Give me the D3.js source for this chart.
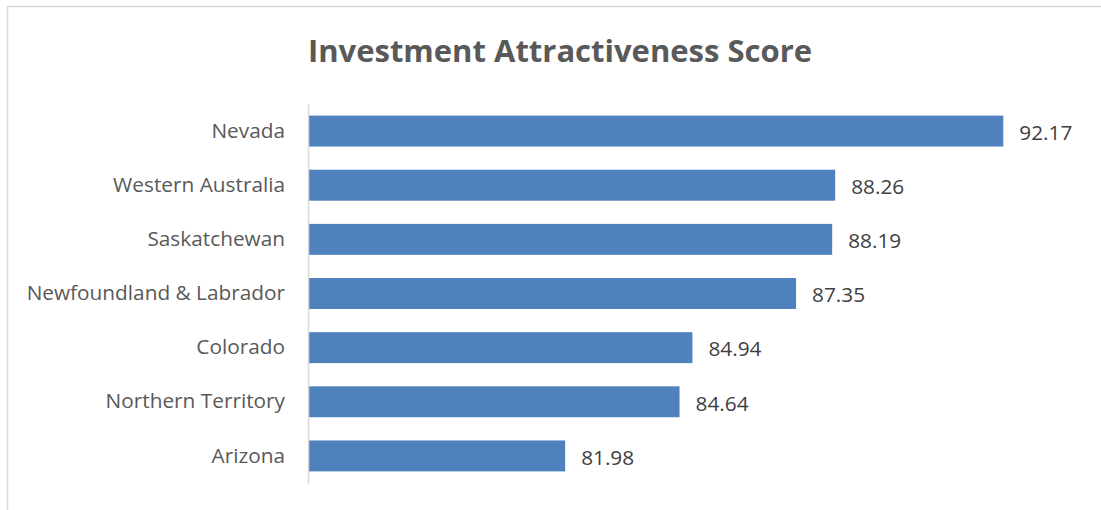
<!DOCTYPE html>
<html><head><meta charset="utf-8">
<script src="https://cdn.jsdelivr.net/npm/d3@7"></script>
<style>body{margin:0;background:#fff;} svg{display:block;}</style>
</head><body>
<svg id="c" width="1101" height="510"></svg>
<script>
const categories = ["Nevada","Western Australia","Saskatchewan","Newfoundland & Labrador","Colorado","Northern Territory","Arizona"];
const values = [92.17,88.26,88.19,87.35,84.94,84.64,81.98];
const title = "Investment Attractiveness Score";

const svg = d3.select("#c");
const font = "'Open Sans', sans-serif";
svg.append("rect").attr("x",7.5).attr("y",6.5).attr("width",1200).attr("height",600)
  .attr("fill","#fff").attr("stroke","#d9d9d9").attr("stroke-width",1.5);

const x = d3.scaleLinear().domain([76,94]).range([308,1082]);
const y = d3.scaleBand().domain(categories).range([104,483]).paddingInner(0.4286).paddingOuter(0.2143);

svg.append("text").attr("x",560).attr("y",62).attr("text-anchor","middle")
  .attr("font-family",font).attr("font-weight","bold").attr("font-size",31).attr("fill","#595959").text(title);

svg.selectAll("rect.bar").data(values).join("rect").attr("class","bar")
  .attr("x",x(76)).attr("y",(d,i)=>y(categories[i])).attr("width",d=>x(d)-x(76)).attr("height",y.bandwidth())
  .attr("fill","#4f81bd");

const ax = svg.append("g").attr("transform",`translate(${x(76)},0)`).call(d3.axisLeft(y).tickSize(0).tickPadding(23));
ax.select(".domain").attr("stroke","#d9d9d9").attr("stroke-width",1.5);
ax.selectAll("text").attr("font-family",font).attr("font-size",20.8).attr("fill","#595959");

svg.selectAll("text.val").data(values).join("text").attr("class","val")
  .attr("x",d=>x(d)+16).attr("y",(d,i)=>y(categories[i])+y.bandwidth()/2+1.5).attr("dy","0.35em")
  .attr("font-family",font).attr("font-size",20.8).attr("fill","#404040").text(d=>d.toFixed(2));
</script>
</body></html>
